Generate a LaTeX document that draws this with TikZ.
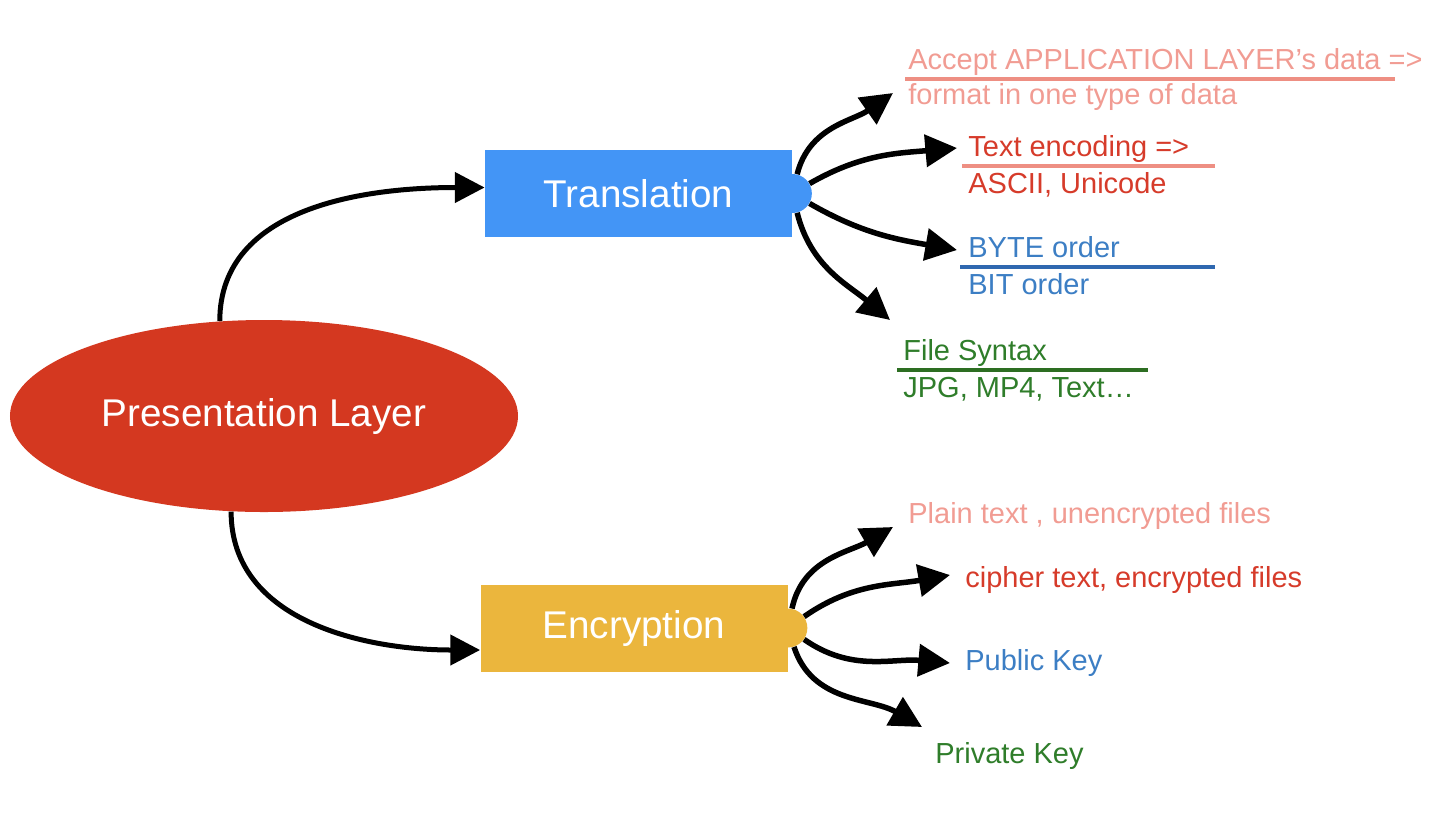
\documentclass[tikz,border=0pt]{standalone}
\usepackage{fontspec}
\setmainfont{Liberation Sans}
\usetikzlibrary{arrows.meta,shapes.geometric}

\definecolor{layerred}{HTML}{D43820}
\definecolor{transblue}{HTML}{4395F6}
\definecolor{encryellow}{HTML}{EBB63D}
\definecolor{lightsalmon}{HTML}{F19C93}
\definecolor{salmonrule}{HTML}{EE8F83}
\definecolor{itemred}{HTML}{D63B2A}
\definecolor{itemblue}{HTML}{3C7EC4}
\definecolor{bluerule}{HTML}{2F68B0}
\definecolor{itemgreen}{HTML}{2F7D2A}
\definecolor{greenrule}{HTML}{2D6E22}

\tikzset{
  topic/.style={rectangle, minimum width=61.4mm, minimum height=17.4mm, inner sep=0pt,
    text=white, font=\fontsize{22}{26}\selectfont},
  knob/.style={circle, minimum size=7.8mm, inner sep=0pt},
  item/.style={anchor=base west, inner sep=0pt, font=\fontsize{16.5}{20}\selectfont},
  branch/.style={line width=1.1mm, -{Triangle[length=18pt,width=18pt]}},
  feed/.style={line width=1mm, -{Triangle[length=17pt,width=17pt]}},
  divider/.style={line width=0.8mm}
}

\begin{document}
\begin{tikzpicture}[x=0.2mm, y=0.2mm]
\useasboundingbox (0,0) rectangle (1444,-822);

\node [ellipse, fill=layerred, minimum width=101.6mm, minimum height=38.4mm, inner sep=0pt,
text=white, font=\fontsize{22}{26}\selectfont] (layer) at (264,-416) {Presentation Layer};

\node [topic, fill=transblue] (trans) at (638.5,-193.5) {Translation};
\node [knob, fill=transblue] (tknob) at (trans.east) {};

\node [topic, fill=encryellow] (encr) at (634,-628) {Encryption};
\node [knob, fill=encryellow] (eknob) at (encr.east) {};

% translation side
\node [item, text=lightsalmon] (accept) at (908,-69) {Accept APPLICATION LAYER’s data =>};
\node [item, text=lightsalmon] (format) at (908,-104) {format in one type of data};
\node [item, text=itemred] (textenc) at (968,-156) {Text encoding =>};
\node [item, text=itemred] (ascii) at (968,-193) {ASCII, Unicode};
\node [item, text=itemblue] (byte) at (968,-257) {BYTE order};
\node [item, text=itemblue] (bit) at (968,-294) {BIT order};
\node [item, text=itemgreen] (syntax) at (903,-360) {File Syntax};
\node [item, text=itemgreen] (formats) at (903,-397) {JPG, MP4, Text…};

\draw [divider, salmonrule] ([xshift=-0.6mm,yshift=-2mm]accept.base west) -- ++(490,0);
\draw [divider, salmonrule] ([xshift=-1.2mm,yshift=-2mm]textenc.base west) -- ++(253,0);
\draw [divider, bluerule] ([xshift=-1.6mm,yshift=-2mm]byte.base west) -- ++(255,0);
\draw [divider, greenrule] ([xshift=-1.2mm,yshift=-2mm]syntax.base west) -- ++(251,0);

% encryption side
\node [item, text=lightsalmon] (plain) at (908,-523) {Plain text , unencrypted files};
\node [item, text=itemred] (cipher) at (965,-587) {cipher text, encrypted files};
\node [item, text=itemblue] (public) at (965,-670) {Public Key};
\node [item, text=itemgreen] (private) at (935,-763) {Private Key};

\coordinate (tipA) at (893,-93);
\coordinate (tipB) at (957,-148);
\coordinate (tipC) at (957,-250);
\coordinate (tipD) at (890,-320);
\coordinate (tipE) at (893,-527);
\coordinate (tipF) at (950,-575);
\coordinate (tipG) at (950,-663);
\coordinate (tipH) at (922,-727);

\draw [feed] (layer.115) to[out=90, in=180] ([yshift=1.2mm]trans.west);
\draw [feed] (layer.-109) to[out=-90, in=180] ([yshift=-4.4mm]encr.west);

\draw [branch] (tknob.76) to[out=76, in=215] (tipA);
\draw [branch] (tknob.30) to[out=30, in=185] (tipB);
\draw [branch] (tknob.-30) to[out=-30, in=170] (tipC);
\draw [branch] (tknob.-76) to[out=-76, in=140] (tipD);

\draw [branch] (eknob.78) to[out=78, in=210] (tipE);
\draw [branch] (eknob.35) to[out=35, in=190] (tipF);
\draw [branch] (eknob.-35) to[out=-35, in=175] (tipG);
\draw [branch] (eknob.-72) to[out=-72, in=150] (tipH);

\end{tikzpicture}
\end{document}
